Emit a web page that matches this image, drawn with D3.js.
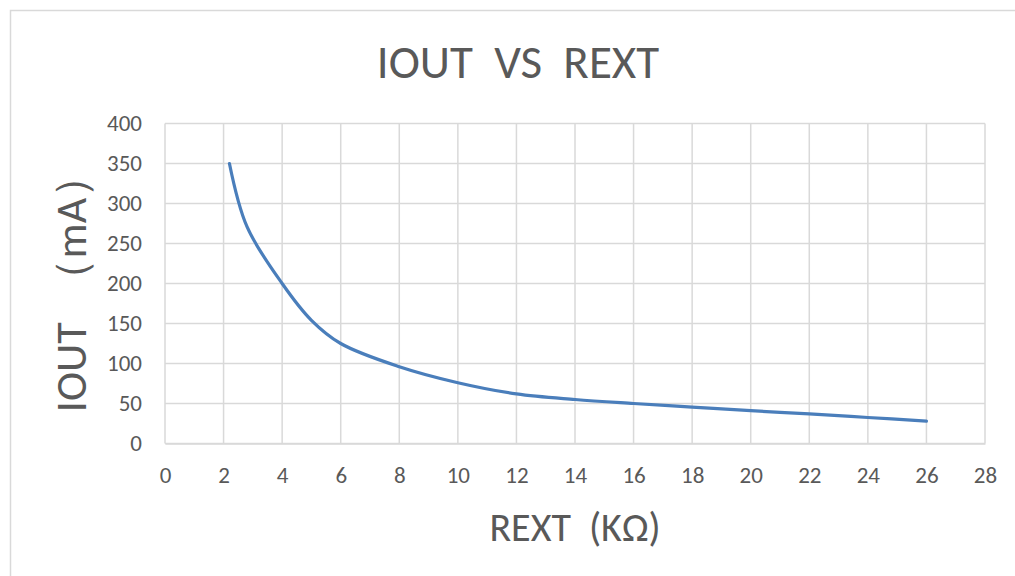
<!DOCTYPE html>
<html>
<head>
<meta charset="utf-8">
<script src="https://cdn.jsdelivr.net/npm/d3@7/dist/d3.min.js"></script>
<style>
  html, body { margin: 0; padding: 0; background: #fff; }
  svg { display: block; }
  text { font-family: "Carlito", "Open Sans", "Noto Sans", sans-serif; fill: #595959; white-space: pre; }
</style>
</head>
<body>
<svg id="chart" width="1015" height="576"></svg>
<script>
const chartTitle = "IOUT  VS  REXT";
const xTitle = "REXT  (KΩ)";
const yTitle = "IOUT  （mA）";
const rextK = [2.2, 2.8, 4, 5, 6, 8, 10, 12, 14, 16, 18, 20, 22, 24, 26];
const ioutMA = [350, 271, 200, 154, 125, 96, 76, 62, 55, 50, 45.5, 41, 37, 32.5, 28];
const xTicks = d3.range(0, 29, 2);
const yTicks = d3.range(0, 401, 50);

const svg = d3.select("#chart");
const W = 1015, H = 576;

// chart frame
svg.append("rect").attr("x", 10.5).attr("y", 10.5).attr("width", W + 20).attr("height", H + 20)
  .attr("fill", "#fff").attr("stroke", "#d9d9d9").attr("stroke-width", 1.5);

const x = d3.scaleLinear().domain([0, 28]).range([165, 985]);
const y = d3.scaleLinear().domain([0, 400]).range([443.5, 123.5]);

// gridlines
svg.append("g").selectAll("line").data(yTicks).join("line")
  .attr("x1", x(0)).attr("x2", x(28)).attr("y1", d => y(d)).attr("y2", d => y(d))
  .attr("stroke", "#d9d9d9").attr("stroke-width", 1.5);
svg.append("g").selectAll("line").data(xTicks).join("line")
  .attr("y1", y(0)).attr("y2", y(400)).attr("x1", d => x(d)).attr("x2", d => x(d))
  .attr("stroke", "#d9d9d9").attr("stroke-width", 1.5);

// axes
const xAxis = svg.append("g").attr("transform", `translate(0,${y(0)})`)
  .call(d3.axisBottom(x).tickValues(xTicks).tickSize(0).tickPadding(23));
xAxis.select(".domain").attr("stroke", "#d9d9d9").attr("stroke-width", 1.5);
xAxis.selectAll("text").style("font-size", "23px").attr("fill", "#595959");

const yAxis = svg.append("g").attr("transform", `translate(${x(0)},0)`)
  .call(d3.axisLeft(y).tickValues(yTicks).tickSize(0).tickPadding(23));
yAxis.select(".domain").remove();
yAxis.selectAll("text").style("font-size", "23px").attr("fill", "#595959");
svg.selectAll(".tick text").attr("font-family", null);

// line
const line = d3.line().x((d, i) => x(rextK[i])).y(d => y(d)).curve(d3.curveCatmullRom.alpha(0.5));
svg.append("path").datum(ioutMA).attr("d", line)
  .attr("fill", "none").attr("stroke", "#4a7ebb").attr("stroke-width", 3.2).attr("stroke-linecap", "round");

// titles
svg.append("text").attr("x", 518).attr("y", 78).attr("text-anchor", "middle")
  .style("font-size", "47px").text(chartTitle);
svg.append("text").attr("x", 575).attr("y", 541).attr("text-anchor", "middle")
  .style("font-size", "40px").text(xTitle);
svg.append("text").attr("transform", "translate(86,283) rotate(-90)").attr("text-anchor", "middle")
  .style("font-size", "44px").text(yTitle);
</script>
</body>
</html>
